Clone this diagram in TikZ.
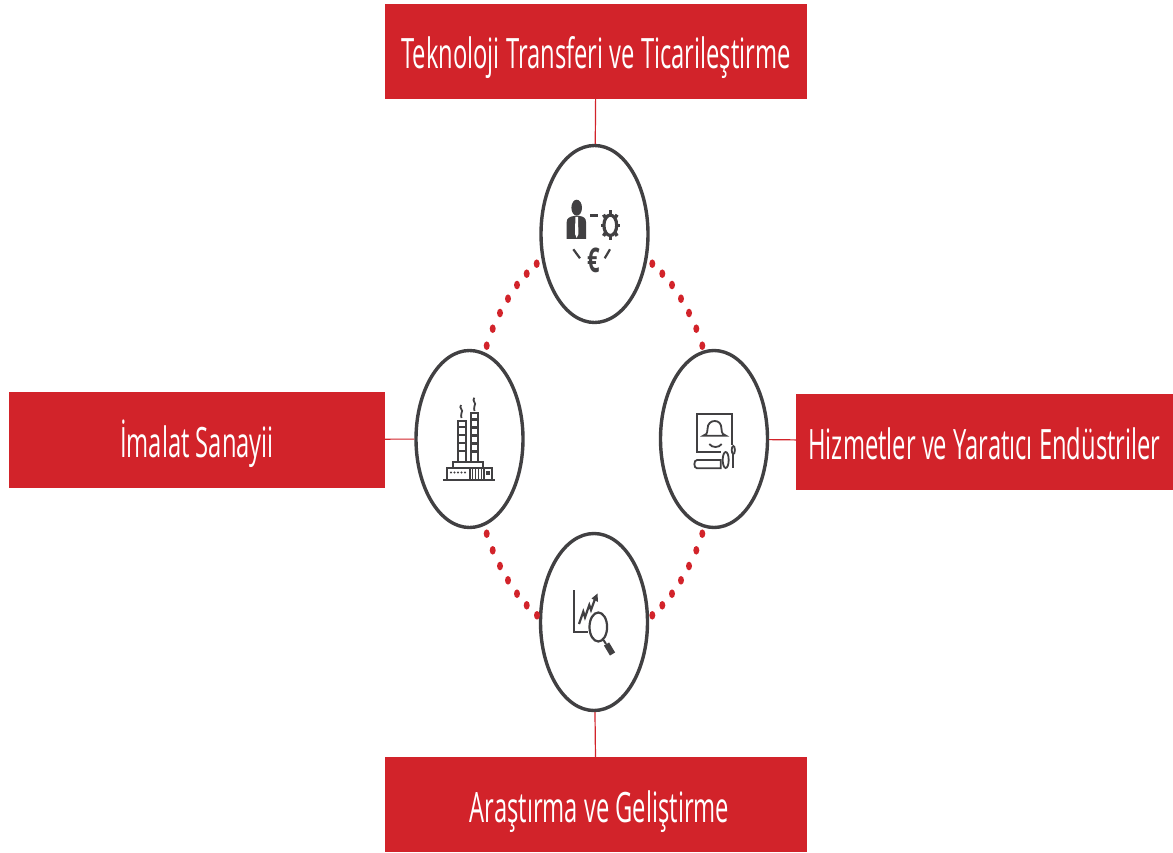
\documentclass[tikz,border=0pt]{standalone}
\usepackage{fontspec}
\setmainfont{Open Sans}
\definecolor{cred}{HTML}{D2232A}
\definecolor{cgray}{HTML}{414042}
\usetikzlibrary{shapes.geometric,calc}
\tikzset{
  x=1pt,y=-1pt,
  lab/.style={fill=cred,text=white,inner sep=0pt,anchor=center,font=\fontsize{27}{30}\selectfont},
  ring/.style={draw=cgray,line width=3.4pt,fill=white,ellipse,minimum width=107pt,minimum height=177pt,inner sep=0pt},
  lnk/.style={draw=cred,line width=1.2pt},
  ico/.style={draw=cgray,line width=1.8pt,fill=none},
  icf/.style={fill=cgray,draw=none}
}
\newcommand{\lbl}[6]{\node[lab,minimum width=#3pt,minimum height=#4pt] (#5) at (#1,#2) {\smash{\raisebox{-17.5pt}{\scalebox{0.88}[1.55]{#6}}}};}
\newcommand{\rdot}[2]{\fill[cred] (#1,#2) ellipse [x radius=3,y radius=4.3];}
\begin{document}
\begin{tikzpicture}
\useasboundingbox (0,0) rectangle (1173,853);
\fill[white] (0,0) rectangle (1173,853);
\lbl{596}{51.5}{422}{95}{top}{Teknoloji Transferi ve Ticarileştirme}
\lbl{197}{439.5}{376}{96}{left}{İmalat Sanayii}
\lbl{984.5}{442}{377}{96}{right}{Hizmetler ve Yaratıcı Endüstriler}
\lbl{596}{804.5}{422}{95}{bot}{\hspace{8pt}Araştırma ve Geliştirme}
\node[ring] (ct) at (594.5,234) {};
\node[ring] (cl) at (469.5,439) {};
\node[ring] (cr) at (714,439) {};
\node[ring] (cb) at (594,622) {};
\draw[lnk] (top) -- (ct);
\draw[lnk] (left) -- (cl);
\draw[lnk] (right) -- (cr);
\draw[lnk] (bot) -- (cb);
% dots
\rdot{536.7}{263.7}\rdot{526.7}{273.7}\rdot{517}{285}\rdot{508}{298.7}\rdot{500}{313}\rdot{492.7}{328.7}\rdot{486.7}{345.7}
\rdot{652.3}{263.7}\rdot{662.3}{273.7}\rdot{672}{285}\rdot{681}{298.7}\rdot{689}{313}\rdot{696.3}{328.7}\rdot{702.3}{345.7}
\rdot{486.7}{533.7}\rdot{492.7}{550.3}\rdot{500}{566}\rdot{508}{580.3}\rdot{517}{593.7}\rdot{526.7}{605.3}\rdot{537}{615.3}
\rdot{702.3}{533.7}\rdot{696.3}{550.3}\rdot{689}{566}\rdot{681}{580.3}\rdot{672}{593.7}\rdot{662.3}{605.3}\rdot{652.3}{615.3}
% person icon
\fill[cgray] (576.7,207.7) ellipse [x radius=5.3,y radius=8];
\fill[cgray] (566.7,239) -- (566.7,222) .. controls (566.7,218) and (570,216.5) .. (574,216) -- (579.5,216) .. controls (583.5,216.5) and (586,218) .. (586,222) -- (586,239) -- cycle;
\fill[white] (575.4,217) -- (578,217) -- (578.4,234) -- (576.7,238) -- (575,234) -- cycle;
\draw[cgray,line width=2.8pt] (590,215.3) -- (598.3,215.3);
% gear
\draw[cgray,line width=3.2pt] (610.3,225.3) ellipse [x radius=6.4,y radius=10.2];
\foreach \a in {0,45,...,315} \draw[cgray,line width=3.4pt] ($(610.3,225.3)+(\a:6.8 and 10.5)$) -- ($(610.3,225.3)+(\a:9.6 and 15)$);
% links and euro
\draw[cgray,line width=2.2pt] (573.3,249.3) -- (580,258.3);
\draw[cgray,line width=2.2pt] (610,249.3) -- (604.7,258.3);
\node[text=cgray,inner sep=0pt,font=\fontsize{22}{24}\selectfont\bfseries] (eur) at (593.3,260.5) {\scalebox{1}[1.55]{€}};
% factory
\foreach \xa/\xb/\yt in {458.3/465.7/421,470.7/478/413.3}{
  \draw[ico] (\xa,\yt) rectangle (\xb,461.7);
  \pgfmathsetmacro{\ystart}{\yt+6}
  \pgfmathsetmacro{\ynext}{\yt+14}
  \foreach \y in {\ystart,\ynext,...,458}{ \draw[cgray,line width=2.6pt] (\xa,\y) -- (\xb,\y); }
}
\draw[ico] (461,405) .. controls (458.5,408) and (464,410) .. (461.5,413) .. controls (460,415) and (462,417) .. (461.5,418);
\draw[ico] (474.3,397.7) .. controls (471.5,401) and (477,403) .. (474.5,406) .. controls (473,408) and (475,410) .. (474.5,411);
\draw[ico] (453.3,468) -- (453.3,461.7) -- (483.3,461.7) -- (483.3,468);
\draw[ico] (447.3,480) -- (447.3,467.7) -- (470,467.7) -- (470,480);
\draw[ico] (470,467.7) -- (491.7,467.7) -- (491.7,480);
\draw[ico] (484,467.7) -- (484,480);
\foreach \x in {451,454.5,458,461.5,465} \fill[cgray] (\x,472.5) circle [radius=1.2];
\foreach \x in {472.5,475.5,478.5,481.5} \draw[cgray,line width=1.6pt] (\x,468) -- (\x,480);
\fill[cgray] (486.1,471.3) rectangle (490,474.7);
\draw[cgray,line width=2.2pt] (443.3,480) -- (495,480);
% monitor
\draw[ico,line join=miter] (732.3,445) -- (732.3,414) -- (696.7,414) -- (696.7,452.3) -- (721,452.3);
\draw[ico] (703.3,435.7) .. controls (706,435.7) and (707.5,433) .. (707.5,429) .. controls (707.5,423.5) and (711,421) .. (714.7,421) .. controls (718.5,421) and (721.5,423.5) .. (721.5,429) .. controls (721.5,433) and (723.5,435.7) .. (726,435.7) -- cycle;
\draw[ico] (709.3,444) .. controls (712,448) and (719,448) .. (721.7,444);
\draw[ico] (720.7,460) -- (697,460) .. controls (693.5,460) and (693.5,468.3) .. (697,468.3) -- (720.7,468.3) -- cycle;
\draw[ico] (725.7,460) ellipse [x radius=3,y radius=8];
\draw[ico] (733.3,450) ellipse [x radius=1.6,y radius=4];
\draw[ico] (733.3,454) -- (733.3,468);
% chart and lens
\draw[cgray,line width=1.8pt] (574.3,590) -- (574.3,631.7) -- (588.3,631.7);
\draw[cgray,line width=2.2pt] (579,624) -- (583.3,611.7) -- (585,617.3) -- (589.3,605) -- (591,610) -- (595,599);
\fill[cgray] (597.5,593.5) -- (598,602) -- (591.5,598.5) -- cycle;
\draw[cgray,line width=2.2pt,fill=white] (598.3,627) ellipse [x radius=8.8,y radius=14.5];
\draw[cgray,line width=2pt] (603.5,640) -- (606,644);
\draw[cgray,line width=6pt] (606.5,644) -- (612.5,654);
\end{tikzpicture}
\end{document}
